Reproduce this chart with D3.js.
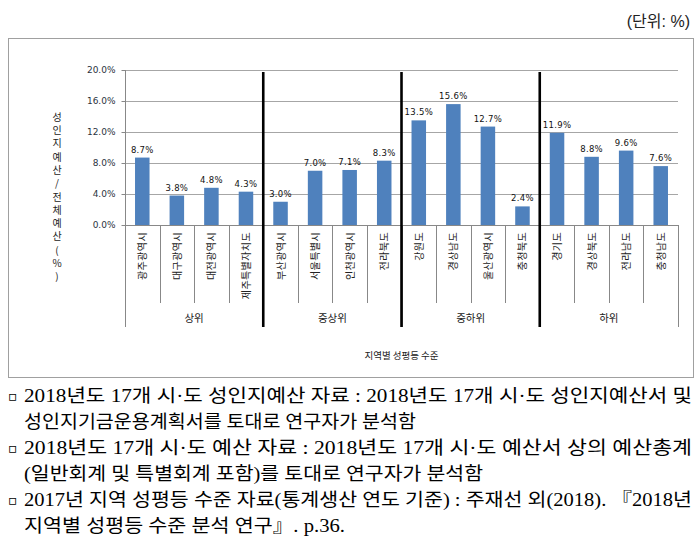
<!DOCTYPE html>
<html><head><meta charset="utf-8">
<script src="https://cdn.jsdelivr.net/npm/d3@7"></script>
<style>html,body{margin:0;padding:0;background:#fff;}svg{display:block;}</style>
</head><body>
<svg id="c" width="698" height="549"></svg>
<script>
const categories = ["광주광역시","대구광역시","대전광역시","제주특별자치도","부산광역시","서울특별시","인천광역시","전라북도","강원도","경상남도","울산광역시","충청북도","경기도","경상북도","전라남도","충청남도"];
const values = [8.7,3.8,4.8,4.3,3.0,7.0,7.1,8.3,13.5,15.6,12.7,2.4,11.9,8.8,9.6,7.6];
const groupOf = ["상위","상위","상위","상위","중상위","중상위","중상위","중상위","중하위","중하위","중하위","중하위","하위","하위","하위","하위"];
const groups = ["상위","중상위","중하위","하위"];
const yTicks = [0,4,8,12,16,20];
const unitLabel = "(단위: %)";
const yTitle = "성인지예산/전체예산(%)";
const xTitle = "지역별 성평등 수준";
const notes = [
  {bullet:true, text:"2018년도 17개 시·도 성인지예산 자료 : 2018년도 17개 시·도 성인지예산서 및"},
  {bullet:false, text:"성인지기금운용계획서를 토대로 연구자가 분석함"},
  {bullet:true, text:"2018년도 17개 시·도 예산 자료 : 2018년도 17개 시·도 예산서 상의 예산총계"},
  {bullet:false, text:"(일반회계 및 특별회계 포함)를 토대로 연구자가 분석함"},
  {bullet:true, text:"2017년 지역 성평등 수준 자료(통계생산 연도 기준) : 주재선 외(2018). 『2018년"},
  {bullet:false, text:"지역별 성평등 수준 분석 연구』. p.36."}
];

const svg = d3.select("#c");
const L = 125, R = 678, T = 70, B = 225;
const catBottom = 303, grpBottom = 327;
const sansKR = "'Noto Sans CJK KR', 'DejaVu Sans', sans-serif";
const numFont = "'DejaVu Sans', sans-serif";

svg.append("rect").attr("width",698).attr("height",549).attr("fill","#fff");

svg.append("text").attr("x",690).attr("y",27).attr("text-anchor","end")
  .attr("font-family","'Liberation Sans', 'Noto Sans CJK KR', sans-serif").attr("font-size",16).attr("fill","#222")
  .text(unitLabel);

svg.append("rect").attr("x",8.5).attr("y",38.5).attr("width",685).attr("height",339)
  .attr("fill","none").attr("stroke","#a0a0a0").attr("stroke-width",1);

const x = d3.scaleBand().domain(categories).range([L,R]).paddingInner(0.58).paddingOuter(0.29);
const step = x.step();
const y = d3.scaleLinear().domain([0,20]).range([B,T]);

// gridlines
svg.append("g").selectAll("line").data(yTicks.filter(d=>d>0)).join("line")
  .attr("x1",L).attr("x2",R).attr("y1",d=>Math.round(y(d))+0.5).attr("y2",d=>Math.round(y(d))+0.5)
  .attr("stroke","#a6a6a6").attr("stroke-width",1);

// y axis
const yAxis = d3.axisLeft(y).tickValues(yTicks).tickSize(4).tickPadding(6).tickFormat(d=>d3.format(".1f")(d)+"%");
const ga = svg.append("g").attr("transform",`translate(${L+0.5},0)`).call(yAxis);
ga.select(".domain").remove();
ga.selectAll(".tick line").attr("stroke","#888");
ga.selectAll(".tick text").attr("font-family",numFont).attr("font-size",9).attr("fill","#2b3440");
svg.append("line").attr("x1",L+0.5).attr("x2",L+0.5).attr("y1",T).attr("y2",grpBottom).attr("stroke","#888");
svg.append("line").attr("x1",R+0.5).attr("x2",R+0.5).attr("y1",B).attr("y2",grpBottom).attr("stroke","#888");

// bars
svg.append("g").selectAll("rect").data(categories).join("rect")
  .attr("x",d=>x(d)).attr("width",x.bandwidth())
  .attr("y",(d,i)=>y(values[i])).attr("height",(d,i)=>B-y(values[i]))
  .attr("fill","#4f81bd");

// x axis line
svg.append("line").attr("x1",L).attr("x2",R).attr("y1",B+0.5).attr("y2",B+0.5).attr("stroke","#888");

// value labels
svg.append("g").selectAll("text").data(categories).join("text")
  .attr("x",d=>x(d)+x.bandwidth()/2).attr("y",(d,i)=>y(values[i])-5)
  .attr("text-anchor","middle").attr("font-family",numFont).attr("font-size",8.5).attr("fill","#111")
  .attr("letter-spacing",0.3)
  .text((d,i)=>d3.format(".1f")(values[i])+"%");

// category separators
const bounds = d3.range(1,categories.length).map(i=>({i, x:L+i*step, grp: groupOf[i]!==groupOf[i-1]}));
svg.append("g").selectAll("line").data(bounds).join("line")
  .attr("x1",d=>Math.round(d.x)+0.5).attr("x2",d=>Math.round(d.x)+0.5)
  .attr("y1",B).attr("y2",d=>d.grp?grpBottom:catBottom)
  .attr("stroke","#888");

// thick group separators
svg.append("g").selectAll("line").data(bounds.filter(d=>d.grp)).join("line")
  .attr("x1",d=>d.x).attr("x2",d=>d.x).attr("y1",72).attr("y2",grpBottom)
  .attr("stroke","#000").attr("stroke-width",2.6);

// category labels
svg.append("g").selectAll("text").data(categories).join("text")
  .attr("transform",d=>`translate(${x(d)+x.bandwidth()/2+4},${B+7}) rotate(-90)`)
  .attr("text-anchor","end").attr("font-family",sansKR).attr("font-size",10).attr("fill","#222")
  .attr("letter-spacing",0.4)
  .text(d=>d);

// group labels
groups.forEach(g=>{
  const idx = groupOf.map((v,i)=>v===g?i:-1).filter(i=>i>=0);
  const x0 = L + idx[0]*step, x1 = L + (idx[idx.length-1]+1)*step;
  svg.append("text").attr("x",(x0+x1)/2).attr("y",322).attr("text-anchor","middle")
    .attr("font-family",sansKR).attr("font-size",10.5).attr("fill","#222").text(g);
});

// x title
svg.append("text").attr("x",(L+R)/2).attr("y",359).attr("text-anchor","middle")
  .attr("font-family",sansKR).attr("font-size",9.5).attr("fill","#222").text(xTitle);

// y title (vertical)
svg.append("text").attr("x",57).attr("y",112)
  .attr("font-family",sansKR).attr("font-size",10).attr("fill","#222")
  .style("writing-mode","vertical-rl").style("text-orientation","upright")
  .attr("letter-spacing",3.3).text(yTitle);

// notes
const serif = "'Liberation Serif', 'Noto Sans CJK KR', serif";
const noteWidths = [668, 392, 668, 459, 668, 321];
const baselines = [402, 428, 454, 480, 506, 532];
notes.forEach((n,i)=>{
  if(n.bullet){
    svg.append("text").attr("x",8).attr("y",baselines[i]-1).attr("font-family","'DejaVu Sans', sans-serif")
      .attr("font-size",14).attr("fill","#000").text("▫");
  }
  svg.append("text").attr("x",24).attr("y",baselines[i])
    .attr("font-family",serif).attr("font-size",18).attr("fill","#000")
    .attr("textLength",noteWidths[i]).attr("lengthAdjust","spacingAndGlyphs")
    .text(n.text);
});
</script>
</body></html>
